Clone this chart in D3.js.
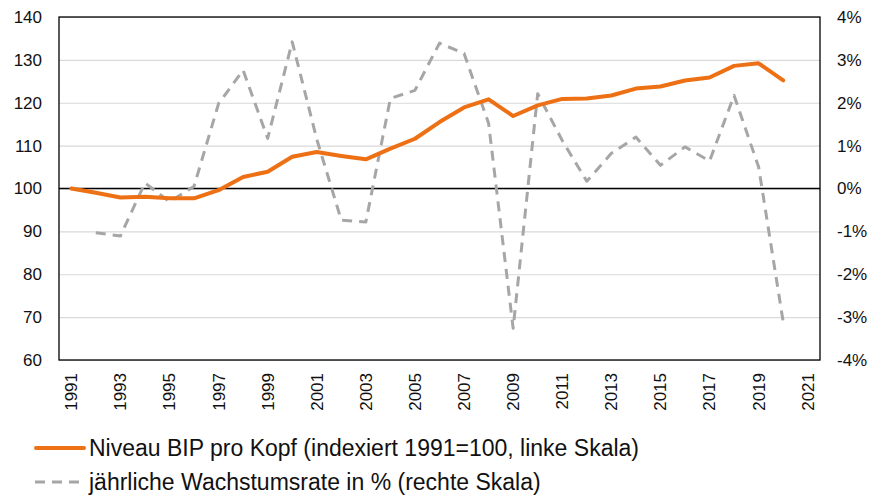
<!DOCTYPE html>
<html>
<head>
<meta charset="utf-8">
<script src="https://cdn.jsdelivr.net/npm/d3@7"></script>
<style>
  html, body { margin: 0; padding: 0; background: #fff; }
  svg { display: block; font-family: "Liberation Sans", Arial, sans-serif; }
</style>
</head>
<body>
<svg id="chart" width="874" height="501"></svg>
<script>
// ---- data ----
const categories = [1991,1992,1993,1994,1995,1996,1997,1998,1999,2000,2001,2002,2003,2004,2005,2006,2007,2008,2009,2010,2011,2012,2013,2014,2015,2016,2017,2018,2019,2020,2021];
const levelYears = [1991,1992,1993,1994,1995,1996,1997,1998,1999,2000,2001,2002,2003,2004,2005,2006,2007,2008,2009,2010,2011,2012,2013,2014,2015,2016,2017,2018,2019,2020];
const levelValues = [100, 99.0, 97.9, 98.1, 97.7, 97.7, 99.6, 102.7, 103.9, 107.4, 108.5, 107.6, 106.8, 109.3, 111.6, 115.5, 118.9, 120.8, 116.9, 119.4, 120.9, 121.0, 121.7, 123.3, 123.8, 125.2, 125.9, 128.6, 129.2, 125.2];
const growthYears = [1992,1993,1994,1995,1996,1997,1998,1999,2000,2001,2002,2003,2004,2005,2006,2007,2008,2009,2010,2011,2012,2013,2014,2015,2016,2017,2018,2019,2020];
const growthValues = [-1.03, -1.11, 0.13, -0.31, 0.05, 1.98, 2.76, 1.17, 3.42, 1.15, -0.74, -0.78, 2.10, 2.29, 3.39, 3.15, 1.52, -3.26, 2.21, 1.12, 0.17, 0.82, 1.20, 0.54, 0.97, 0.64, 2.17, 0.50, -3.11];
const leftTicks = [60,70,80,90,100,110,120,130,140];
const rightTicks = [-4,-3,-2,-1,0,1,2,3,4];
const xTickLabels = [1991,1993,1995,1997,1999,2001,2003,2005,2007,2009,2011,2013,2015,2017,2019,2021];
const legendLabels = ["Niveau BIP pro Kopf (indexiert 1991=100, linke Skala)", "jährliche Wachstumsrate in % (rechte Skala)"];

// ---- layout ----
const L = 59, R = 820, T = 17, B = 360;
const orange = "#ED7014", grey = "#A6A6A6";
const svg = d3.select("#chart");

const x = d3.scaleBand().domain(categories).range([L, R]);
const xc = d => x(d) + x.bandwidth() / 2;
const yL = d3.scaleLinear().domain([60, 140]).range([B, T]);
const yR = d3.scaleLinear().domain([-4, 4]).range([B, T]);

// gridlines
svg.append("g")
  .attr("transform", `translate(${L},0)`)
  .call(d3.axisLeft(yL).tickValues(leftTicks).tickSize(-(R - L)).tickFormat(""))
  .call(g => g.select(".domain").remove())
  .call(g => g.selectAll("line").attr("stroke", "#d9d9d9").attr("stroke-width", 1.2));

// zero line (100 / 0%)
svg.append("line")
  .attr("x1", L).attr("x2", R).attr("y1", yL(100)).attr("y2", yL(100))
  .attr("stroke", "#000").attr("stroke-width", 1.3);

// plot border
svg.append("rect")
  .attr("x", L).attr("y", T).attr("width", R - L).attr("height", B - T)
  .attr("fill", "none").attr("stroke", "#000").attr("stroke-width", 1.3);

// left axis labels
svg.append("g")
  .attr("transform", `translate(${L},0)`)
  .call(d3.axisLeft(yL).tickValues(leftTicks).tickSize(0).tickPadding(17))
  .call(g => g.select(".domain").remove())
  .call(g => g.selectAll("text").attr("font-size", 17).attr("fill", "#111")
    .attr("font-family", "Liberation Sans, Arial, sans-serif"));

// right axis labels
svg.append("g")
  .attr("transform", `translate(${R},0)`)
  .call(d3.axisRight(yR).tickValues(rightTicks).tickSize(0).tickPadding(17).tickFormat(d => d + "%"))
  .call(g => g.select(".domain").remove())
  .call(g => g.selectAll("text").attr("font-size", 17).attr("fill", "#111")
    .attr("font-family", "Liberation Sans, Arial, sans-serif"));

// x axis labels (rotated)
const xAxis = d3.axisBottom(x).tickValues(xTickLabels).tickSize(0).tickFormat(d => String(d));
svg.append("g")
  .attr("transform", `translate(0,${B})`)
  .call(xAxis)
  .call(g => g.select(".domain").remove())
  .call(g => g.selectAll("text")
    .attr("font-size", 17).attr("fill", "#111")
    .attr("font-family", "Liberation Sans, Arial, sans-serif")
    .attr("transform", "rotate(-90)")
    .attr("text-anchor", "end")
    .attr("x", -13).attr("y", 0).attr("dy", "0.35em"));

// growth line (dashed, right scale)
const growthData = growthYears.map((yr, i) => ({ yr, v: growthValues[i] }));
svg.append("path")
  .datum(growthData)
  .attr("fill", "none")
  .attr("stroke", grey)
  .attr("stroke-width", 3)
  .attr("stroke-dasharray", "10,7")
  .attr("stroke-linejoin", "round")
  .attr("d", d3.line().x(d => xc(d.yr)).y(d => yR(d.v)));

// level line (orange, left scale)
const levelData = levelYears.map((yr, i) => ({ yr, v: levelValues[i] }));
svg.append("path")
  .datum(levelData)
  .attr("fill", "none")
  .attr("stroke", orange)
  .attr("stroke-width", 4)
  .attr("stroke-linejoin", "round")
  .attr("stroke-linecap", "round")
  .attr("d", d3.line().x(d => xc(d.yr)).y(d => yL(d.v)));

// legend
const legend = svg.append("g");
const legY = [448, 482];
legend.append("line").attr("x1", 36).attr("x2", 84).attr("y1", legY[0]).attr("y2", legY[0])
  .attr("stroke", orange).attr("stroke-width", 4).attr("stroke-linecap", "round");
legend.append("line").attr("x1", 35).attr("x2", 83).attr("y1", legY[1]).attr("y2", legY[1])
  .attr("stroke", grey).attr("stroke-width", 3).attr("stroke-dasharray", "10,7");
legendLabels.forEach((t, i) => {
  legend.append("text").attr("x", 89).attr("y", legY[i]).attr("dy", "0.35em")
    .attr("font-size", 23).attr("fill", "#111").text(t);
});
</script>
</body>
</html>
